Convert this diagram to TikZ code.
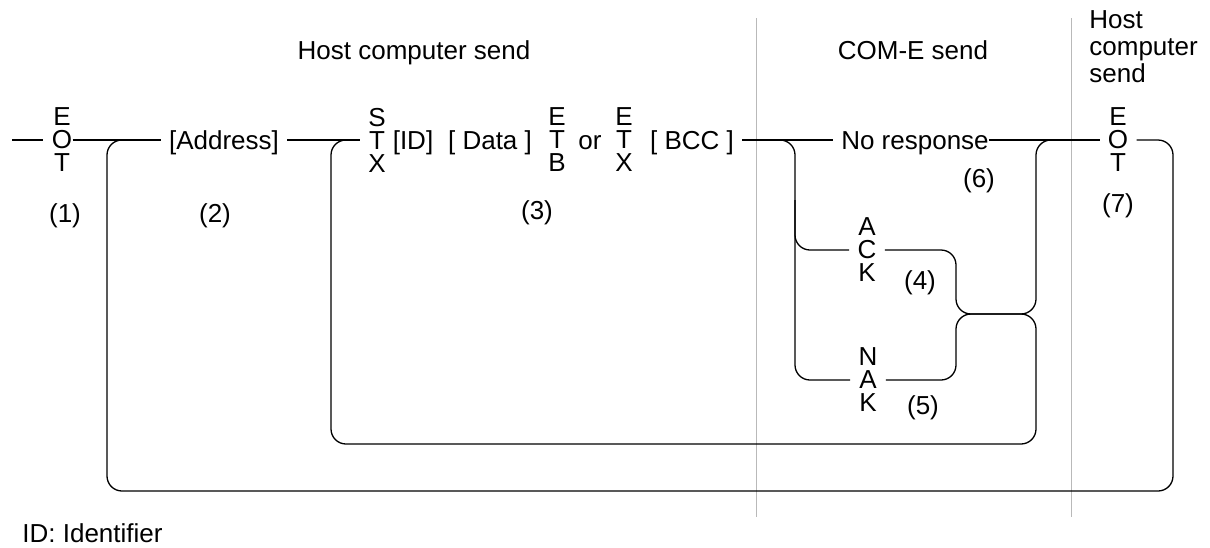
\documentclass[tikz,border=0pt]{standalone}
\usepackage{fontspec}
\setmainfont{Liberation Sans}
\tikzset{
  word/.style={inner xsep=4pt, inner ysep=0pt, text height=9.3pt, text depth=0pt,
    font=\fontsize{13}{12}\selectfont},
  stack/.style={inner xsep=4pt, inner ysep=0pt, align=center,
    font=\fontsize{13}{11.5}\selectfont},
  wire/.style={line width=0.65pt, rounded corners=7.5pt},
  divider/.style={draw=gray!55, line width=0.5pt}
}
\begin{document}
\begin{tikzpicture}[x=0.5pt, y=-0.5pt]
\useasboundingbox (0,0) rectangle (1210,547);
% headers
\node[word] (hdrhost) at (414,50) {Host computer send};
\node[word] (hdrcom) at (913,50) {COM-E send};
\node[stack, align=left, anchor=north west, font=\fontsize{13}{13.5}\selectfont] (hdrhost2) at (1081,10) {Host\\computer\\send};
\draw[divider] (756,18) -- (756,517);
\draw[divider] (1071,18) -- (1071,517);
% main line
\coordinate (start) at (12,140);
\node[stack] (eot1) at (62,140) {E\\O\\T};
\node[word] (addr) at (224,140) {[Address]};
\node[stack] (stx) at (377,140) {S\\T\\X};
\node[word] (id) at (413,140) {[ID]};
\node[word] (data) at (490,140) {[ Data ]};
\node[stack] (etb) at (557,140) {E\\T\\B};
\node[word] (or) at (590,140) {or};
\node[stack] (etx) at (624,140) {E\\T\\X};
\node[word] (bcc) at (692,140) {[ BCC ]};
\node[word] (norsp) at (915,140) {No response};
\node[stack] (ack) at (867,250) {A\\C\\K};
\node[stack] (nak) at (868,380) {N\\A\\K};
\node[stack] (eot7) at (1118,140) {E\\O\\T};
% step numbers
\node[word] (n1) at (65,213) {(1)};
\node[word] (n2) at (215,213) {(2)};
\node[word] (n3) at (537,210) {(3)};
\node[word] (n4) at (920,280) {(4)};
\node[word] (n5) at (923,405) {(5)};
\node[word] (n6) at (979,178) {(6)};
\node[word] (n7) at (1118,203) {(7)};
\node[word, inner xsep=0pt, anchor=west] (note) at (22,533) {ID: Identifier};
% connectors
\draw[wire] (start) -- (eot1.west);
\draw[wire, shorten <=-4pt] (eot1.east) -- (addr.west);
\draw[wire] (addr.east) -- (stx.west);
\draw[wire] (bcc.east) -- (norsp.west);
\draw[wire, shorten <=-4pt] (norsp.east) -- (eot7.west);
\draw[wire] (bcc.east) -- (795,140) -- (795,380) -- (nak.west);
\draw[wire] (795,200) -- (795,250) -- (ack.west);
\draw[wire] (ack.east) -- (956,250) -- (956,314) -- (1036,314) -- (1036,140) -- (eot7.west);
\draw[wire] (nak.east) -- (956,380) -- (956,314) -- (1036,314) -- (1036,444) -- (331,444) -- (331,140) -- (stx.west);
\draw[wire] (addr.west) -- (107,140) -- (107,491) -- (1173,491) -- (1173,140) -- (eot7.east);
\end{tikzpicture}
\end{document}
